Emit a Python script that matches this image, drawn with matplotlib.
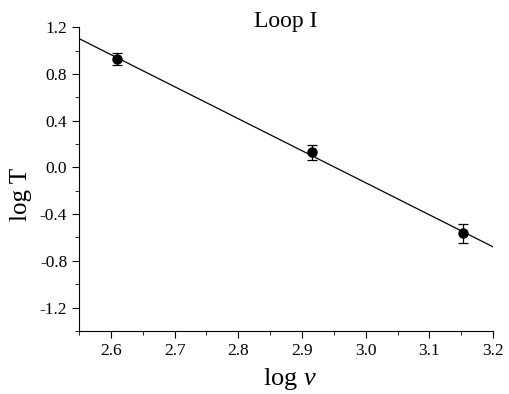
import matplotlib.pyplot as plt
import numpy as np

plt.rcParams['font.family'] = ['Liberation Serif', 'DejaVu Serif']
plt.rcParams['mathtext.fontset'] = 'custom'
plt.rcParams['mathtext.it'] = 'Liberation Serif:italic'
plt.rcParams['mathtext.rm'] = 'Liberation Serif'

log_v = np.array([2.61, 2.915, 3.152])
log_T = np.array([0.925, 0.13, -0.565])
err = np.array([0.05, 0.065, 0.08])

xticks = [2.6, 2.7, 2.8, 2.9, 3.0, 3.1, 3.2]
yticks = [-1.2, -0.8, -0.4, 0.0, 0.4, 0.8, 1.2]

slope, icpt = np.polyfit(log_v, log_T, 1)
xfit = np.array([2.55, 3.2])

fig = plt.figure(figsize=(5.1, 3.94), dpi=100)
ax = fig.add_axes([0.155, 0.16, 0.812, 0.771])

ax.plot(xfit, slope * xfit + icpt, color='black', lw=0.9)
ax.errorbar(log_v, log_T, yerr=err, fmt='o', color='black', ms=6.5,
            capsize=3.5, elinewidth=0.9, capthick=0.9)

ax.set_xlim(2.55, 3.2)
ax.set_ylim(-1.4, 1.2)
ax.set_xticks(xticks)
ax.set_yticks(yticks)
ax.set_xticklabels(['%.1f' % t for t in xticks])
ax.set_yticklabels(['%.1f' % t for t in yticks])
ax.set_xticks(np.arange(2.55, 3.21, 0.05), minor=True)
ax.set_yticks(np.arange(-1.4, 1.21, 0.2), minor=True)
ax.tick_params(which='major', direction='out', length=5, labelsize=12.5)
ax.tick_params(which='minor', direction='out', length=3)

for s in ['top', 'right']:
    ax.spines[s].set_visible(False)

# axis labels and title placed in figure pixels
fig.text(290 / 510, 1 - 379 / 394, r'log $v$', ha='center', va='center', fontsize=19)
fig.text(21 / 510, 1 - 194 / 394, 'log T', ha='center', va='center',
         rotation=90, fontsize=18)
fig.text(286 / 510, 1 - 21 / 394, 'Loop I', ha='center', va='center', fontsize=17)

fig.savefig('out.png', dpi=100)
